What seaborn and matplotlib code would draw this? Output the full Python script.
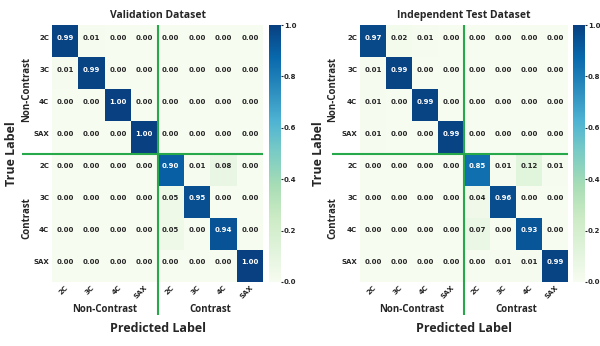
import numpy as np
import pandas as pd
import matplotlib
matplotlib.use("Agg")
import matplotlib.pyplot as plt
import seaborn as sns

sns.set_style("white")
plt.rcParams["font.family"] = ["DejaVu Sans"]

classes = ["2C", "3C", "4C", "SAX", "2C", "3C", "4C", "SAX"]
groups = ["Non-Contrast", "Contrast"]

validation = [
    [0.99, 0.01, 0.00, 0.00, 0.00, 0.00, 0.00, 0.00],
    [0.01, 0.99, 0.00, 0.00, 0.00, 0.00, 0.00, 0.00],
    [0.00, 0.00, 1.00, 0.00, 0.00, 0.00, 0.00, 0.00],
    [0.00, 0.00, 0.00, 1.00, 0.00, 0.00, 0.00, 0.00],
    [0.00, 0.00, 0.00, 0.00, 0.90, 0.01, 0.08, 0.00],
    [0.00, 0.00, 0.00, 0.00, 0.05, 0.95, 0.00, 0.00],
    [0.00, 0.00, 0.00, 0.00, 0.05, 0.00, 0.94, 0.00],
    [0.00, 0.00, 0.00, 0.00, 0.00, 0.00, 0.00, 1.00],
]

independent_test = [
    [0.97, 0.02, 0.01, 0.00, 0.00, 0.00, 0.00, 0.00],
    [0.01, 0.99, 0.00, 0.00, 0.00, 0.00, 0.00, 0.00],
    [0.01, 0.00, 0.99, 0.00, 0.00, 0.00, 0.00, 0.00],
    [0.01, 0.00, 0.00, 0.99, 0.00, 0.00, 0.00, 0.00],
    [0.00, 0.00, 0.00, 0.00, 0.85, 0.01, 0.12, 0.01],
    [0.00, 0.00, 0.00, 0.00, 0.04, 0.96, 0.00, 0.00],
    [0.00, 0.00, 0.00, 0.00, 0.07, 0.00, 0.93, 0.00],
    [0.00, 0.00, 0.00, 0.00, 0.00, 0.01, 0.01, 0.99],
]

titles = ["Validation Dataset", "Independent Test Dataset"]

W, H = 600, 346
fig = plt.figure(figsize=(W / 100, H / 100), dpi=100)


def box(x0, y0, x1, y1):
    return [x0 / W, 1 - y1 / H, (x1 - x0) / W, (y1 - y0) / H]


panels = [
    dict(data=validation, title=titles[0],
         hm=(52, 25, 263, 282), cb=(269, 25, 281, 282),
         hline_x=22, ylab_x=12, grp_x=27),
    dict(data=independent_test, title=titles[1],
         hm=(360, 25, 568, 282), cb=(573, 25, 585, 282),
         hline_x=332, ylab_x=318, grp_x=333),
]

green = "#27a94b"
label_font = "Open Sans"
row_lift = 0.11  # text sits slightly above each row centre

for p in panels:
    ax = fig.add_axes(box(*p["hm"]))
    cax = fig.add_axes(box(*p["cb"]))
    df = pd.DataFrame(np.array(p["data"]), index=classes, columns=classes)
    sns.heatmap(df, ax=ax, cbar_ax=cax, cmap="GnBu", vmin=0, vmax=1,
                annot=True, fmt=".2f",
                annot_kws=dict(fontsize=5, fontweight="bold"),
                cbar_kws=dict(ticks=[0, 0.2, 0.4, 0.6, 0.8, 1.0], format="%.1f"))
    cax.tick_params(labelsize=5, length=1.5, pad=0.5)
    for t in cax.get_yticklabels():
        t.set_fontweight("bold")

    for t in ax.texts:
        x, y = t.get_position()
        t.set_position((x, y - row_lift))

    ax.set_xticklabels(classes, rotation=45, ha="right", rotation_mode="anchor",
                       fontsize=5, fontweight="bold")
    ax.set_yticks(np.arange(8) + 0.5 - row_lift)
    ax.set_yticklabels(classes, rotation=0, fontsize=5, fontweight="bold")
    ax.tick_params(length=0, pad=2)

    ax.set_title(p["title"], fontsize=7.5, fontweight="bold",
                 fontfamily=label_font, pad=5)

    # dividing lines between the two acquisition groups
    x0 = p["hm"][0]
    cw = (p["hm"][2] - p["hm"][0]) / 8
    ch = (p["hm"][3] - p["hm"][1]) / 8
    left_data = (p["hline_x"] - x0) / cw
    bottom_data = (315 - p["hm"][1]) / ch
    ax.plot([left_data, 8], [4, 4], color=green, lw=1.5, clip_on=False,
            solid_capstyle="butt")
    ax.plot([4, 4], [0, bottom_data], color=green, lw=1.5, clip_on=False,
            solid_capstyle="butt")

    # group labels
    gy = (309 - p["hm"][1]) / ch
    ax.text(2, gy, groups[0], ha="center", va="center", fontsize=7,
            fontweight="bold", fontfamily=label_font)
    ax.text(6, gy, groups[1], ha="center", va="center", fontsize=7,
            fontweight="bold", fontfamily=label_font)
    gx = (p["grp_x"] - x0) / cw
    ax.text(gx, 2, groups[0], ha="center", va="center", rotation=90,
            fontsize=7, fontweight="bold", fontfamily=label_font)
    ax.text(gx, 6, groups[1], ha="center", va="center", rotation=90,
            fontsize=7, fontweight="bold", fontfamily=label_font)

    # axis titles
    lx = (p["ylab_x"] - x0) / cw
    ax.text(lx, 4, "True Label", ha="center", va="center", rotation=90,
            fontsize=9, fontweight="bold", fontfamily=label_font)
    ax.text(4, (329 - p["hm"][1]) / ch, "Predicted Label", ha="center",
            va="center", fontsize=9, fontweight="bold", fontfamily=label_font)

fig.savefig("out.png", dpi=100)
